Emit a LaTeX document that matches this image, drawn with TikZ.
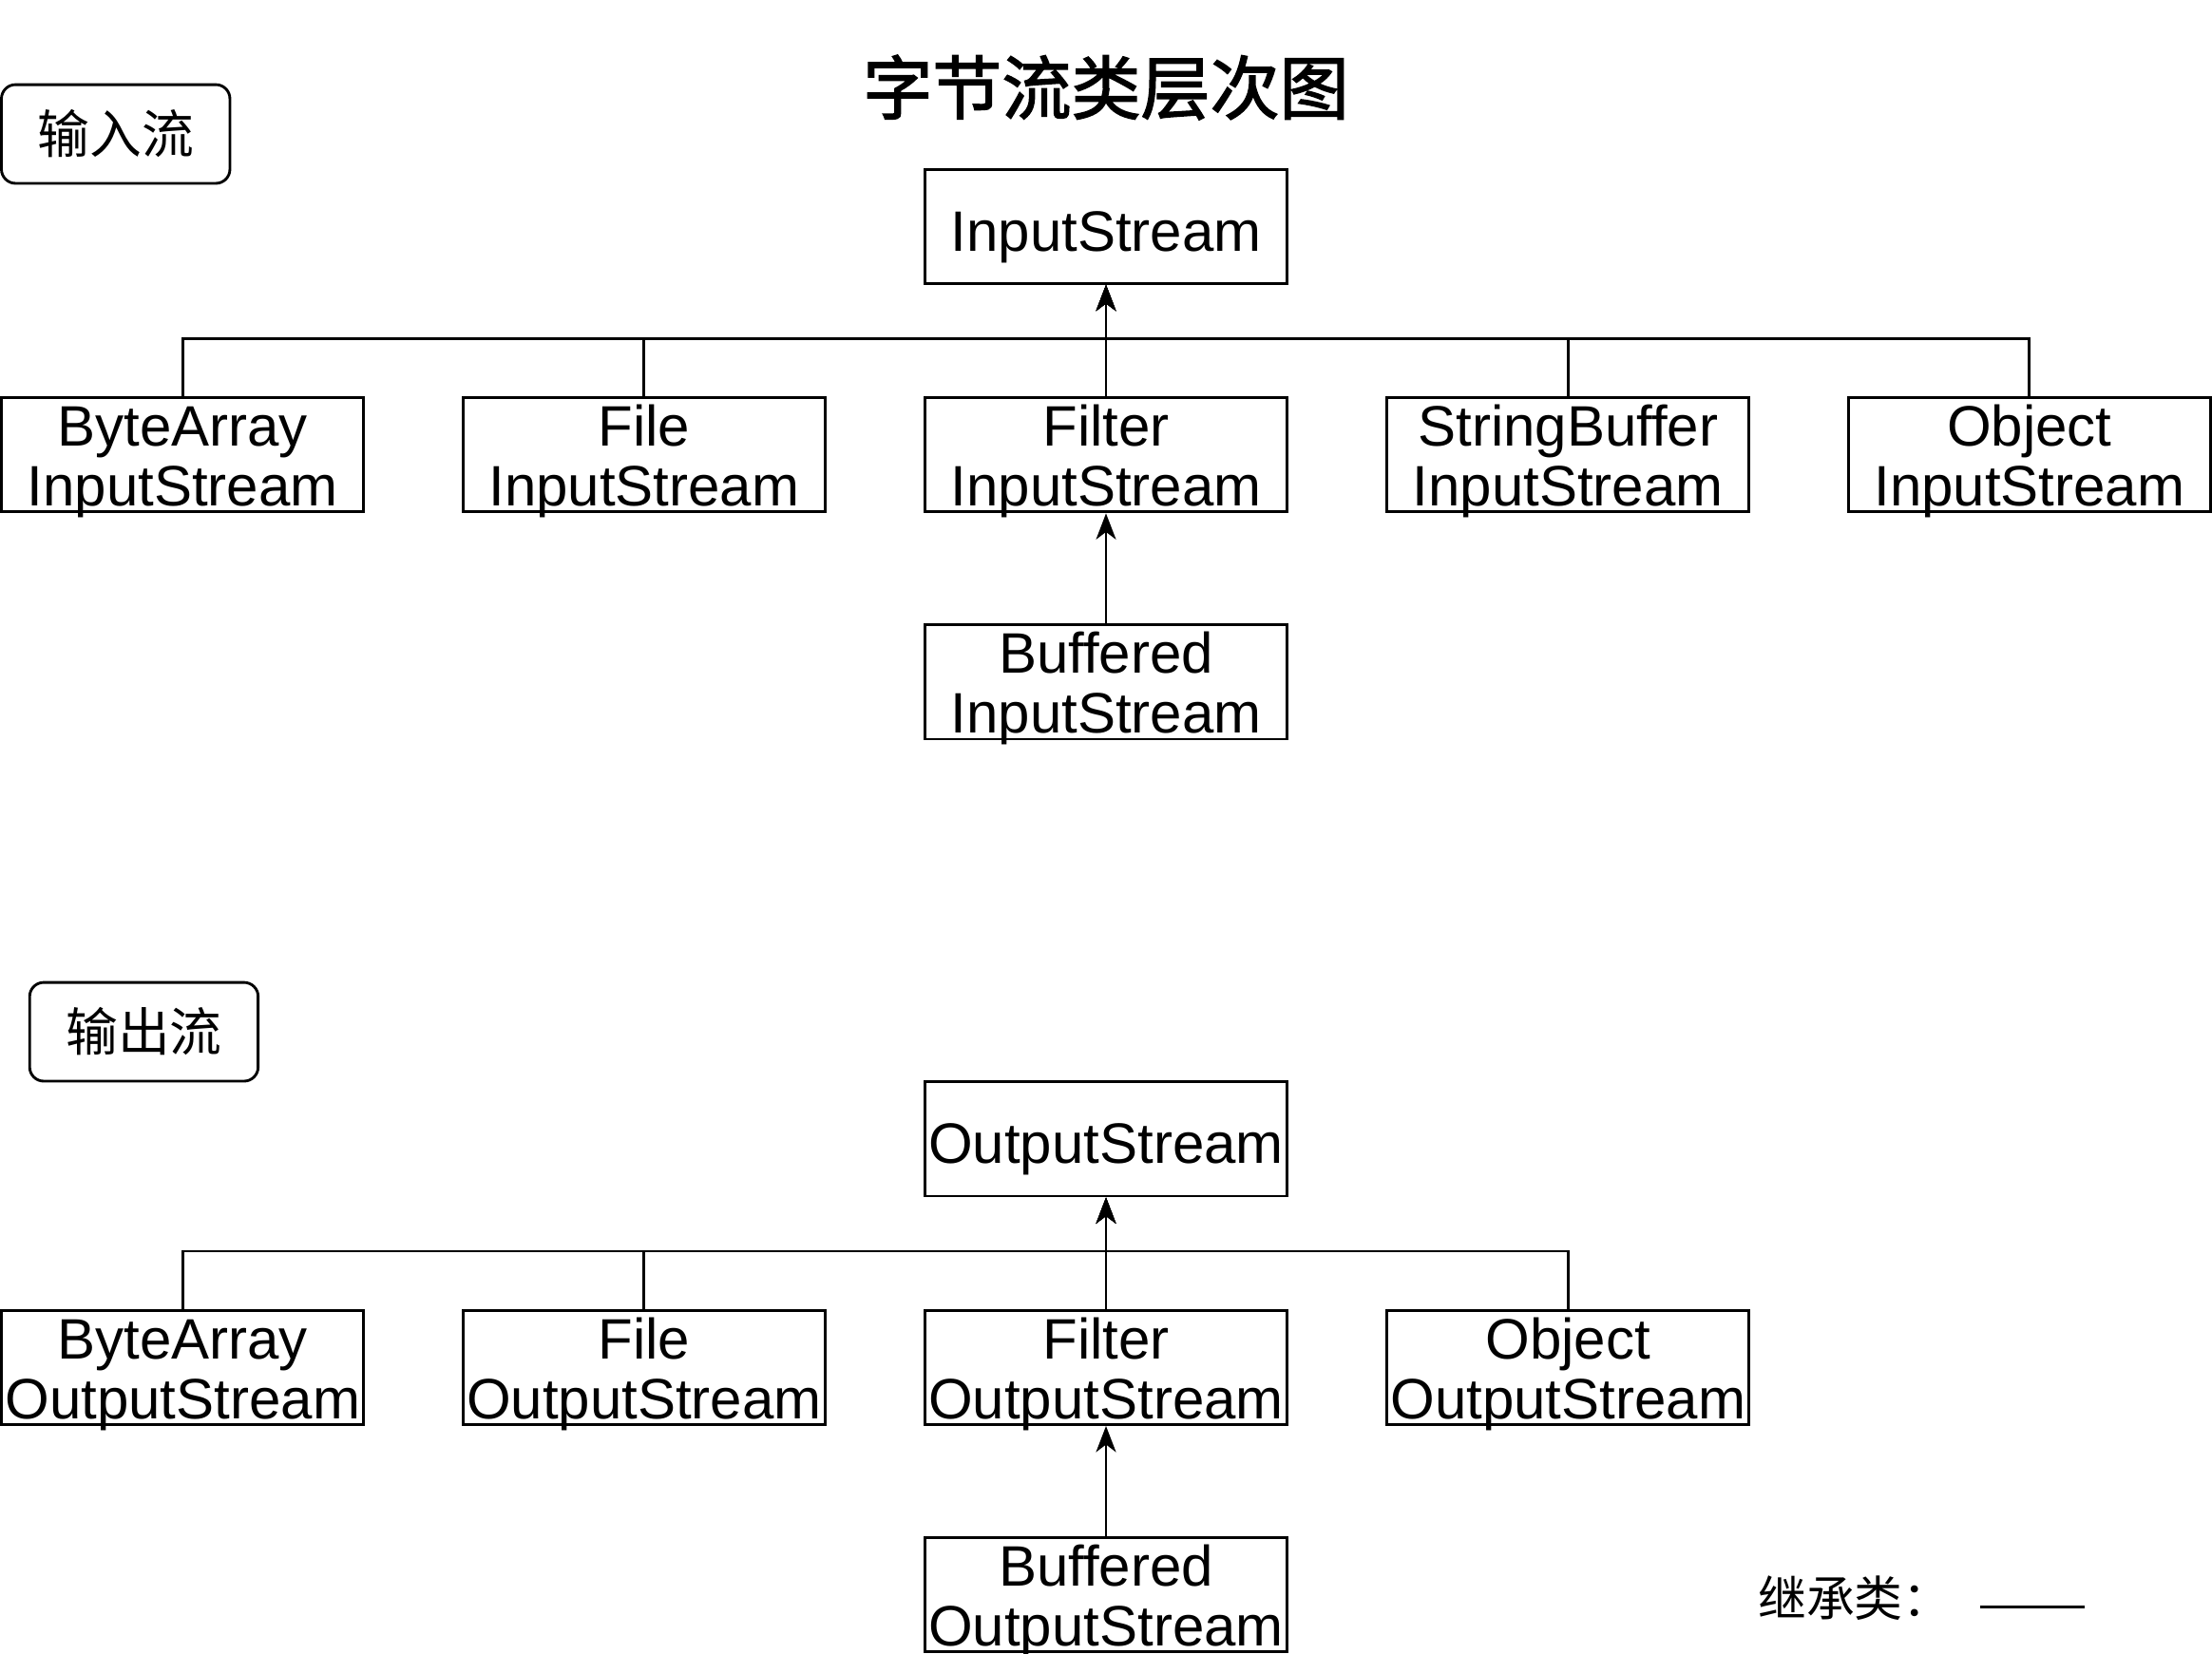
\documentclass[tikz,border=0pt]{standalone}
\usepackage{fontspec}
\setmainfont{Liberation Sans}
\newfontfamily\cjk{Noto Sans CJK SC}[AutoFakeBold=2]
\usetikzlibrary{arrows.meta}

\newcommand{\cname}[2]{\begin{tabular}{@{}c@{}}#1\\#2\end{tabular}}

\tikzset{
  cls/.style={draw, line width=1.1pt, minimum width=5.13cm, minimum height=1.62cm,
    inner sep=0pt, text height=20pt, text depth=0pt, font=\fontsize{23}{24}\selectfont},
  grp/.style={draw, line width=1.1pt, rounded corners=0.2cm, minimum width=3.24cm,
    minimum height=1.4cm, font=\cjk\fontsize{21}{24}\selectfont},
  inh/.style={line width=1.1pt, -{Stealth[length=10.5pt,width=8pt,inset=3pt]}}
}

\begin{document}
\begin{tikzpicture}[x=0.02cm, y=-0.02cm]
	\useasboundingbox (0,0) rectangle (1568,1172);

	% Title and group labels
	\node[font=\cjk\bfseries\fontsize{28}{30}\selectfont] (title) at (784,62) {字节流类层次图};
	\node[grp] (inlbl) at (82,95) {输入流};
	\node[grp] (outlbl) at (102,731.5) {输出流};

	% Input streams
	\node[cls] (is) at (784,160.5) {InputStream};
	\node[cls] (bai) at (129.5,322.5) {\cname{ByteArray}{InputStream}};
	\node[cls] (fii) at (456.5,322.5) {\cname{File}{InputStream}};
	\node[cls] (fti) at (784,322.5) {\cname{Filter}{InputStream}};
	\node[cls] (sbi) at (1111.5,322.5) {\cname{StringBuffer}{InputStream}};
	\node[cls] (obi) at (1438.5,322.5) {\cname{Object}{InputStream}};
	\node[cls] (bfi) at (784,483.5) {\cname{Buffered}{InputStream}};

	% Output streams
	\node[cls] (os) at (784,807.5) {OutputStream};
	\node[cls] (bao) at (129.5,969.5) {\cname{ByteArray}{OutputStream}};
	\node[cls] (fio) at (456.5,969.5) {\cname{File}{OutputStream}};
	\node[cls] (fto) at (784,969.5) {\cname{Filter}{OutputStream}};
	\node[cls] (obo) at (1111.5,969.5) {\cname{Object}{OutputStream}};
	\node[cls] (bfo) at (784,1130.5) {\cname{Buffered}{OutputStream}};

	% Inheritance edges
	\foreach \n in {bai,fii,fti,sbi,obi}
	\draw[inh] (\n.north) -- ++(0,-41) -| (is.south);
	\draw[inh] (bfi.north) -- (fti.south);

	\foreach \n in {bao,fio,fto,obo}
	\draw[inh] (\n.north) -- ++(0,-41) -| (os.south);
	\draw[inh] (bfo.north) -- (fto.south);

	% Legend
	\node[font=\cjk\fontsize{19.5}{22}\selectfont, anchor=west] (leg) at (1240,1133) {继承类：};
	\coordinate (legend) at (1478,1139);
	\draw[line width=1.1pt] (leg.east |- legend) ++(14,0) -- (legend);
\end{tikzpicture}
\end{document}
